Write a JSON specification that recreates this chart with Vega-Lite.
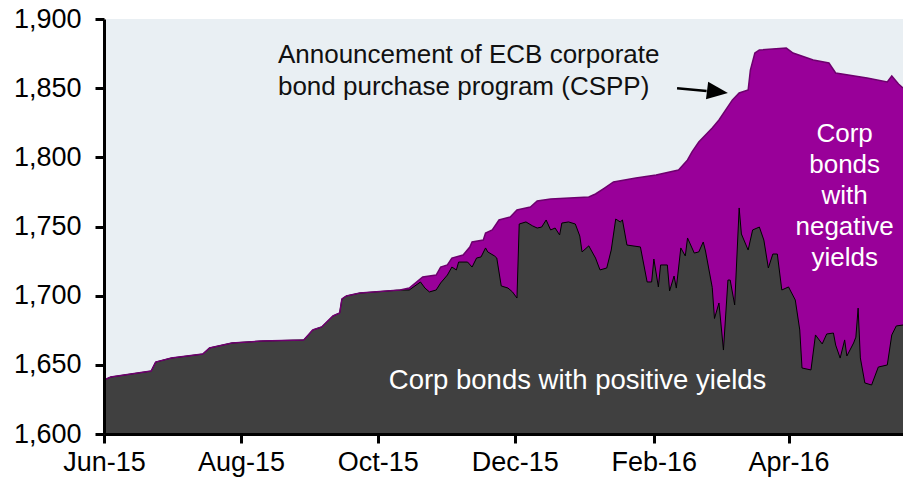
{
  "$schema": "https://vega.github.io/schema/vega-lite/v6.json",
  "width": 799,
  "height": 415,
  "autosize": {"type": "none"},
  "padding": {"left": 104, "top": 19, "right": 0, "bottom": 48},
  "background": "#ffffff",
  "config": {
    "view": {"fill": "#e9eff3", "stroke": null},
    "font": "Liberation Sans",
    "axis": {
      "labelFont": "Liberation Sans",
      "labelFontSize": 27,
      "labelColor": "#000000",
      "domainColor": "#000000",
      "tickColor": "#000000",
      "domainWidth": 3,
      "tickWidth": 3,
      "tickSize": 9
    }
  },
  "datasets": {
    "gridlines": [
      {"value": 1650}, {"value": 1700}, {"value": 1750}, {"value": 1800}, {"value": 1850}
    ],
    "total": [
      {"date": "2015-06-01", "value": 1639.0},
      {"date": "2015-06-04", "value": 1641.2},
      {"date": "2015-06-22", "value": 1645.5},
      {"date": "2015-06-24", "value": 1652.0},
      {"date": "2015-07-01", "value": 1654.9},
      {"date": "2015-07-15", "value": 1657.8},
      {"date": "2015-07-18", "value": 1662.2},
      {"date": "2015-07-28", "value": 1665.8},
      {"date": "2015-08-10", "value": 1667.2},
      {"date": "2015-08-29", "value": 1668.0},
      {"date": "2015-09-02", "value": 1675.2},
      {"date": "2015-09-06", "value": 1677.4},
      {"date": "2015-09-11", "value": 1685.3},
      {"date": "2015-09-14", "value": 1687.5},
      {"date": "2015-09-15", "value": 1697.6},
      {"date": "2015-09-17", "value": 1699.8},
      {"date": "2015-09-23", "value": 1701.9},
      {"date": "2015-10-11", "value": 1704.1},
      {"date": "2015-10-15", "value": 1705.5},
      {"date": "2015-10-21", "value": 1713.5},
      {"date": "2015-10-27", "value": 1714.9},
      {"date": "2015-10-29", "value": 1720.7},
      {"date": "2015-11-01", "value": 1722.2},
      {"date": "2015-11-03", "value": 1727.2},
      {"date": "2015-11-08", "value": 1729.4},
      {"date": "2015-11-11", "value": 1735.2},
      {"date": "2015-11-12", "value": 1738.8},
      {"date": "2015-11-17", "value": 1740.2},
      {"date": "2015-11-18", "value": 1745.3},
      {"date": "2015-11-21", "value": 1747.5},
      {"date": "2015-11-24", "value": 1754.7},
      {"date": "2015-11-29", "value": 1756.9},
      {"date": "2015-12-02", "value": 1761.9},
      {"date": "2015-12-08", "value": 1764.1},
      {"date": "2015-12-11", "value": 1768.5},
      {"date": "2015-12-17", "value": 1769.9},
      {"date": "2016-01-03", "value": 1771.3},
      {"date": "2016-01-06", "value": 1773.5},
      {"date": "2016-01-10", "value": 1777.8},
      {"date": "2016-01-14", "value": 1782.2},
      {"date": "2016-01-24", "value": 1785.1},
      {"date": "2016-02-02", "value": 1787.2},
      {"date": "2016-02-12", "value": 1790.8},
      {"date": "2016-02-16", "value": 1798.1},
      {"date": "2016-02-18", "value": 1803.9},
      {"date": "2016-02-21", "value": 1811.1},
      {"date": "2016-02-27", "value": 1821.2},
      {"date": "2016-03-01", "value": 1827.0},
      {"date": "2016-03-07", "value": 1841.5},
      {"date": "2016-03-10", "value": 1846.5},
      {"date": "2016-03-14", "value": 1848.7},
      {"date": "2016-03-15", "value": 1863.1},
      {"date": "2016-03-17", "value": 1875.4},
      {"date": "2016-03-19", "value": 1877.6},
      {"date": "2016-03-31", "value": 1879.0},
      {"date": "2016-04-03", "value": 1875.4},
      {"date": "2016-04-12", "value": 1870.4},
      {"date": "2016-04-19", "value": 1868.2},
      {"date": "2016-04-22", "value": 1861.0},
      {"date": "2016-05-06", "value": 1857.4},
      {"date": "2016-05-15", "value": 1854.5},
      {"date": "2016-05-17", "value": 1858.8},
      {"date": "2016-05-20", "value": 1853.0},
      {"date": "2016-05-22", "value": 1850.1}
    ],
    "positive": [
      {"date": "2015-06-01", "value": 1639.0},
      {"date": "2015-06-04", "value": 1641.2},
      {"date": "2015-06-22", "value": 1645.5},
      {"date": "2015-06-24", "value": 1652.0},
      {"date": "2015-07-01", "value": 1654.9},
      {"date": "2015-07-15", "value": 1657.8},
      {"date": "2015-07-18", "value": 1662.2},
      {"date": "2015-07-28", "value": 1665.8},
      {"date": "2015-08-10", "value": 1667.2},
      {"date": "2015-08-29", "value": 1668.0},
      {"date": "2015-09-02", "value": 1675.2},
      {"date": "2015-09-06", "value": 1677.4},
      {"date": "2015-09-11", "value": 1685.3},
      {"date": "2015-09-14", "value": 1687.5},
      {"date": "2015-09-15", "value": 1697.6},
      {"date": "2015-09-17", "value": 1699.8},
      {"date": "2015-09-23", "value": 1701.9},
      {"date": "2015-10-11", "value": 1704.1},
      {"date": "2015-10-15", "value": 1704.1},
      {"date": "2015-10-20", "value": 1709.9},
      {"date": "2015-10-22", "value": 1705.5},
      {"date": "2015-10-24", "value": 1702.7},
      {"date": "2015-10-27", "value": 1704.1},
      {"date": "2015-10-29", "value": 1709.2},
      {"date": "2015-11-01", "value": 1714.9},
      {"date": "2015-11-03", "value": 1720.7},
      {"date": "2015-11-05", "value": 1718.6},
      {"date": "2015-11-06", "value": 1724.3},
      {"date": "2015-11-10", "value": 1724.3},
      {"date": "2015-11-12", "value": 1720.7},
      {"date": "2015-11-14", "value": 1727.2},
      {"date": "2015-11-16", "value": 1728.0},
      {"date": "2015-11-18", "value": 1734.5},
      {"date": "2015-11-19", "value": 1731.6},
      {"date": "2015-11-22", "value": 1728.7},
      {"date": "2015-11-23", "value": 1727.2},
      {"date": "2015-11-24", "value": 1717.1},
      {"date": "2015-11-25", "value": 1707.0},
      {"date": "2015-11-28", "value": 1705.5},
      {"date": "2015-11-30", "value": 1702.7},
      {"date": "2015-12-02", "value": 1698.3},
      {"date": "2015-12-03", "value": 1751.8},
      {"date": "2015-12-06", "value": 1753.3},
      {"date": "2015-12-09", "value": 1750.4},
      {"date": "2015-12-11", "value": 1748.9},
      {"date": "2015-12-13", "value": 1749.6},
      {"date": "2015-12-15", "value": 1754.7},
      {"date": "2015-12-17", "value": 1747.5},
      {"date": "2015-12-19", "value": 1748.9},
      {"date": "2015-12-21", "value": 1743.9},
      {"date": "2015-12-22", "value": 1752.5},
      {"date": "2015-12-25", "value": 1753.3},
      {"date": "2015-12-28", "value": 1751.8},
      {"date": "2015-12-30", "value": 1743.1},
      {"date": "2015-12-31", "value": 1731.6},
      {"date": "2016-01-03", "value": 1736.0},
      {"date": "2016-01-06", "value": 1727.2},
      {"date": "2016-01-08", "value": 1718.6},
      {"date": "2016-01-11", "value": 1720.0},
      {"date": "2016-01-13", "value": 1733.0},
      {"date": "2016-01-15", "value": 1755.4},
      {"date": "2016-01-17", "value": 1753.3},
      {"date": "2016-01-18", "value": 1754.7},
      {"date": "2016-01-20", "value": 1736.6},
      {"date": "2016-01-26", "value": 1735.2},
      {"date": "2016-01-29", "value": 1709.9},
      {"date": "2016-01-31", "value": 1709.9},
      {"date": "2016-02-01", "value": 1726.5},
      {"date": "2016-02-03", "value": 1706.3},
      {"date": "2016-02-04", "value": 1722.2},
      {"date": "2016-02-07", "value": 1722.2},
      {"date": "2016-02-08", "value": 1703.4},
      {"date": "2016-02-10", "value": 1714.2},
      {"date": "2016-02-11", "value": 1705.5},
      {"date": "2016-02-13", "value": 1734.5},
      {"date": "2016-02-15", "value": 1728.7},
      {"date": "2016-02-16", "value": 1741.7},
      {"date": "2016-02-19", "value": 1730.8},
      {"date": "2016-02-21", "value": 1731.6},
      {"date": "2016-02-23", "value": 1738.8},
      {"date": "2016-02-24", "value": 1732.3},
      {"date": "2016-02-27", "value": 1706.0},
      {"date": "2016-02-28", "value": 1683.5},
      {"date": "2016-03-01", "value": 1694.7},
      {"date": "2016-03-03", "value": 1660.7},
      {"date": "2016-03-05", "value": 1711.3},
      {"date": "2016-03-06", "value": 1711.3},
      {"date": "2016-03-08", "value": 1693.3},
      {"date": "2016-03-10", "value": 1763.4},
      {"date": "2016-03-11", "value": 1744.6},
      {"date": "2016-03-14", "value": 1733.0},
      {"date": "2016-03-16", "value": 1747.5},
      {"date": "2016-03-19", "value": 1749.6},
      {"date": "2016-03-21", "value": 1740.2},
      {"date": "2016-03-23", "value": 1720.0},
      {"date": "2016-03-25", "value": 1730.1},
      {"date": "2016-03-27", "value": 1730.1},
      {"date": "2016-03-29", "value": 1704.1},
      {"date": "2016-04-01", "value": 1706.3},
      {"date": "2016-04-04", "value": 1696.9},
      {"date": "2016-04-06", "value": 1675.2},
      {"date": "2016-04-07", "value": 1647.7},
      {"date": "2016-04-11", "value": 1646.3},
      {"date": "2016-04-13", "value": 1671.6},
      {"date": "2016-04-16", "value": 1665.1},
      {"date": "2016-04-18", "value": 1672.3},
      {"date": "2016-04-21", "value": 1673.0},
      {"date": "2016-04-22", "value": 1664.3},
      {"date": "2016-04-24", "value": 1654.9},
      {"date": "2016-04-26", "value": 1668.0},
      {"date": "2016-04-27", "value": 1656.4},
      {"date": "2016-04-30", "value": 1665.8},
      {"date": "2016-05-01", "value": 1670.0},
      {"date": "2016-05-02", "value": 1691.0},
      {"date": "2016-05-03", "value": 1655.0},
      {"date": "2016-05-05", "value": 1636.9},
      {"date": "2016-05-08", "value": 1635.4},
      {"date": "2016-05-11", "value": 1648.4},
      {"date": "2016-05-15", "value": 1649.9},
      {"date": "2016-05-17", "value": 1671.6},
      {"date": "2016-05-19", "value": 1678.1},
      {"date": "2016-05-22", "value": 1678.8}
    ],
    "annotation": [
      {"date": "2015-08-17T12:00", "value": 1868.2, "label": "Announcement of ECB corporate"},
      {"date": "2015-08-17T12:00", "value": 1845.1, "label": "bond purchase program (CSPP)"}
    ],
    "positivelabel": [
      {"date": "2015-12-29", "value": 1632.5, "label": "Corp bonds with positive yields"}
    ],
    "negativelabel": [
      {"date": "2016-04-26", "value": 1811.1, "label": "Corp"},
      {"date": "2016-04-26", "value": 1788.7, "label": "bonds"},
      {"date": "2016-04-26", "value": 1766.3, "label": "with"},
      {"date": "2016-04-26", "value": 1743.9, "label": "negative"},
      {"date": "2016-04-26", "value": 1721.4, "label": "yields"}
    ],
    "arrow": [
      {"date": "2016-02-11T08:00", "value": 1850.0, "date2": "2016-02-24T12:00", "value2": 1848.0}
    ],
    "arrowhead": [
      {"date": "2016-02-29T08:00", "value": 1847.4}
    ]
  },
  "encoding": {
    "x": {
      "field": "date",
      "type": "temporal",
      "scale": {"domain": [{"year": 2015, "month": 6, "date": 1}, {"year": 2016, "month": 5, "date": 22}]},
      "axis": {
        "title": null,
        "format": "%b-%y",
        "values": [
          {"year": 2015, "month": 6, "date": 1},
          {"year": 2015, "month": 8, "date": 1},
          {"year": 2015, "month": 10, "date": 1},
          {"year": 2015, "month": 12, "date": 1},
          {"year": 2016, "month": 2, "date": 1},
          {"year": 2016, "month": 4, "date": 1}
        ],
        "grid": false,
        "labelPadding": 6,
        "labelFlush": false,
        "labelOverlap": false,
        "zindex": 2
      }
    },
    "y": {
      "field": "value",
      "type": "quantitative",
      "scale": {"domain": [1600, 1900], "nice": false, "zero": false},
      "axis": {
        "title": null,
        "values": [1600, 1650, 1700, 1750, 1800, 1850, 1900],
        "format": ",d",
        "grid": false,
        "labelPadding": 14,
        "labelFlush": false,
        "labelOverlap": false,
        "zindex": 2
      }
    }
  },
  "layer": [
    {
      "data": {"name": "gridlines"},
      "mark": {"type": "rule", "color": "#ffffff", "strokeWidth": 2.5},
      "encoding": {
        "x": {"datum": {"year": 2015, "month": 6, "date": 1}, "type": "temporal"},
        "x2": {"datum": {"year": 2016, "month": 5, "date": 22}}
      }
    },
    {
      "data": {"name": "total"},
      "mark": {"type": "area", "color": "#990099", "opacity": 1, "clip": true},
      "encoding": {"y2": {"datum": 1600}}
    },
    {
      "data": {"name": "positive"},
      "mark": {"type": "area", "color": "#404040", "opacity": 1, "clip": true},
      "encoding": {"y2": {"datum": 1600}}
    },
    {"data": {"name": "positive"}, "mark": {"type": "line", "color": "#000000", "strokeWidth": 1}},
    {"data": {"name": "total"}, "mark": {"type": "line", "color": "#6e006e", "strokeWidth": 1.5}},
    {
      "data": {"name": "annotation"},
      "mark": {"type": "text", "align": "left", "baseline": "alphabetic", "fontSize": 26, "color": "#111111", "font": "Liberation Sans"},
      "encoding": {"text": {"field": "label"}}
    },
    {
      "data": {"name": "positivelabel"},
      "mark": {"type": "text", "align": "center", "baseline": "alphabetic", "fontSize": 27.5, "color": "#ffffff", "font": "Liberation Sans"},
      "encoding": {"text": {"field": "label"}}
    },
    {
      "data": {"name": "negativelabel"},
      "mark": {"type": "text", "align": "center", "baseline": "alphabetic", "fontSize": 26, "color": "#ffffff", "font": "Liberation Sans"},
      "encoding": {"text": {"field": "label"}}
    },
    {
      "data": {"name": "arrow"},
      "mark": {"type": "rule", "color": "#000000", "strokeWidth": 2.5},
      "encoding": {"x2": {"field": "date2"}, "y2": {"field": "value2"}}
    },
    {
      "data": {"name": "arrowhead"},
      "mark": {"type": "point", "shape": "M-1,-0.85L1,0L-1,0.85Z", "size": 441, "angle": 7, "filled": true, "color": "#000000", "opacity": 1, "strokeWidth": 0}
    }
  ]
}
